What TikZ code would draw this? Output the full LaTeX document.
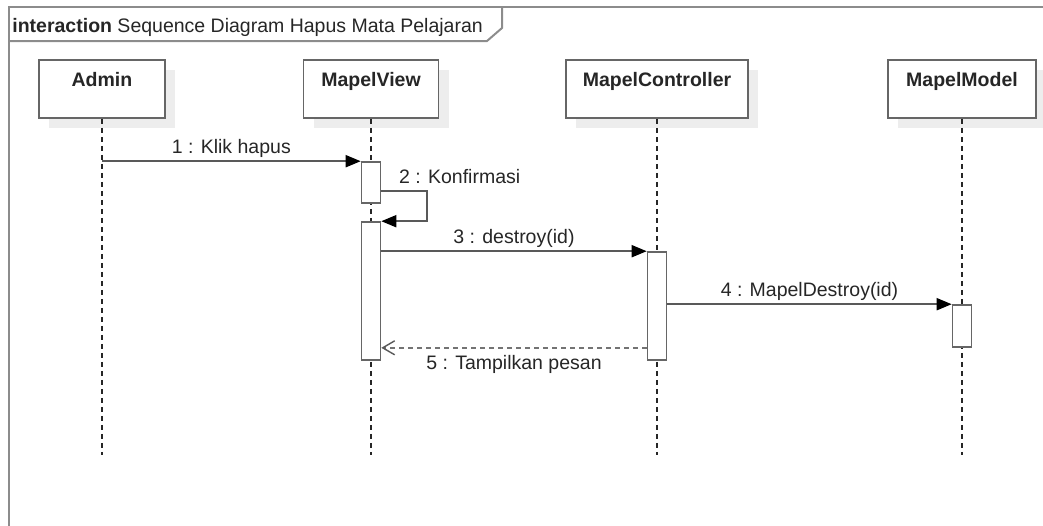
\documentclass[tikz,border=0pt]{standalone}
\usepackage{fontspec}
\setmainfont{Liberation Sans}
\usetikzlibrary{positioning,arrows.meta,shadows}

\begin{document}
\begin{tikzpicture}[x=0.5pt,y=-0.5pt,
  font=\fontsize{9.75}{11.5}\selectfont,
  frame/.style={draw=black!45,line width=1pt},
  head/.style={draw=black!60,line width=0.9pt,fill=white,minimum height=29pt,inner sep=0pt,
    drop shadow={shadow xshift=5pt,shadow yshift=-5pt,fill=black!7,opacity=1}},
  headtext/.style={font=\fontsize{9.75}{11.5}\selectfont\bfseries,inner sep=0pt,text=black!85},
  bar/.style={draw=black!60,line width=0.8pt,fill=white,minimum width=9.5pt,inner sep=0pt},
  life/.style={black!85,line width=0.6pt,dash pattern=on 2.5pt off 2pt},
  msg/.style={black!65,line width=0.9pt,-{Triangle[length=7.5pt,width=6pt,color=black]}},
  reply/.style={black!55,line width=0.7pt,dash pattern=on 2.5pt off 2pt,
    -{Straight Barb[length=6pt,width=7pt,color=black!65]}},
  lbl/.style={midway,anchor=base,yshift=4pt,text=black!85}]

\clip (0,0) rectangle (1043,525);

\draw[frame] (9,540) -- (9,7) -- (1060,7);
\draw[frame] (9,41) -- (487,41) -- (502,28) -- (502,7);
\node[anchor=base west,inner sep=0pt,text=black!85] (title) at (12,32) {\textbf{interaction} Sequence Diagram Hapus Mata Pelajaran};

\node[head,minimum width=63pt]   (admin) at (102,89) {};
\node[head,minimum width=67.5pt] (view)  at (371,89) {};
\node[head,minimum width=91pt]   (ctrl)  at (657,89) {};
\node[head,minimum width=74pt]   (model) at (962,89) {};

\node[headtext,below=6.5pt of admin.north] (tadmin) {Admin};
\node[headtext,below=6.5pt of view.north]  (tview)  {MapelView};
\node[headtext,below=6.5pt of ctrl.north]  (tctrl)  {MapelController};
\node[headtext,below=6.5pt of model.north] (tmodel) {MapelModel};

\coordinate (eadmin) at (102,455);
\coordinate (eview)  at (371,455);
\coordinate (ectrl)  at (657,455);
\coordinate (emodel) at (962,455);

\draw[life] (admin) -- (eadmin);
\draw[life] (view)  -- (eview);
\draw[life] (ctrl)  -- (ectrl);
\draw[life] (model) -- (emodel);

\node[bar,minimum height=20.5pt] (v1) at (371,182.5) {};
\node[bar,minimum height=69pt]   (v2) at (371,291) {};
\node[bar,minimum height=54pt]   (c1) at (657,306) {};
\node[bar,minimum height=21pt]   (m1) at (962,326) {};

\draw[msg] (admin |- v1.north west) -- (v1.north west) node[lbl] {1 : Klik hapus};
\draw[msg] ([yshift=-15pt]v1.north east)
  node[anchor=base west,inner sep=0pt,xshift=8.5pt,yshift=4pt,text=black!85] {2 : Konfirmasi}
  -- ++(46,0) |- (v2.north east);
\draw[msg] (v2.east |- c1.north west) -- (c1.north west) node[lbl] {3 : destroy(id)};
\draw[msg] (c1.east |- m1.north west) -- (m1.north west) node[lbl] {4 : MapelDestroy(id)};
\draw[reply] (c1.west |- m1.south) -- (v2.east |- m1.south)
  node[midway,anchor=base,yshift=-11pt,text=black!85] {5 : Tampilkan pesan};
\end{tikzpicture}
\end{document}
